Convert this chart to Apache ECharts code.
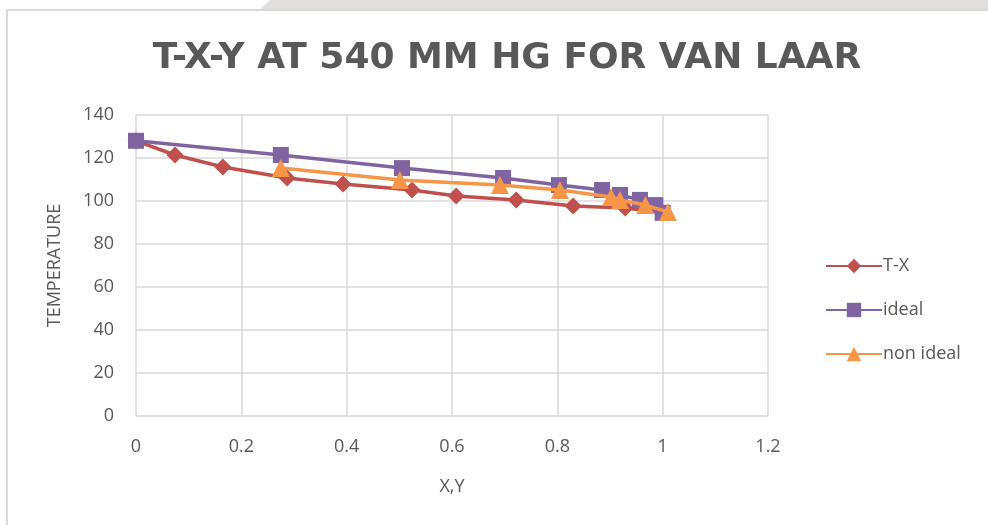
<!DOCTYPE html>
<html><head><meta charset="utf-8">
<script src="https://cdn.jsdelivr.net/npm/echarts@6/dist/echarts.min.js"></script>
<style>html,body{margin:0;padding:0;background:#fff}#c{width:988px;height:525px}</style>
</head><body><div id="c"></div>
<script>
const titleText = 'T-X-Y AT 540 MM HG FOR VAN LAAR';
const xTicks = [0, 0.2, 0.4, 0.6, 0.8, 1, 1.2];
const yTicks = [0, 20, 40, 60, 80, 100, 120, 140];
const seriesNames = ['T-X', 'ideal', 'non ideal'];
const txX = [0, 0.074, 0.165, 0.287, 0.393, 0.524, 0.608, 0.722, 0.830, 0.929, 1.0];
const txT = [128, 121.4, 115.8, 110.7, 107.9, 105.1, 102.3, 100.5, 97.7, 96.7, 94.7];
const idealX = [0, 0.275, 0.505, 0.697, 0.803, 0.885, 0.919, 0.957, 0.986, 1.0];
const idealT = [128, 121.4, 115.3, 110.7, 107.4, 105.1, 102.8, 100.5, 98.1, 94.5];
const nonX = [0.275, 0.501, 0.691, 0.805, 0.902, 0.919, 0.967, 1.01];
const nonT = [115.3, 109.8, 107.4, 105.1, 101.9, 100.5, 98.1, 94.9];

const pair = (xs, ys) => xs.map((x, i) => [x, ys[i]]);
const colors = ['#C0504D', '#8064A2', '#F79646'];
const symbols = ['diamond', 'rect', 'triangle'];
const sizes = [17, 16, 18];
const data = [pair(txX, txT), pair(idealX, idealT), pair(nonX, nonT)];

const chart = echarts.init(document.getElementById('c'), null, {renderer: 'canvas'});
chart.setOption({
  animation: false,
  backgroundColor: '#fff',
  graphic: [
    {type: 'polygon', shape: {points: [[270,0],[988,0],[988,9],[260,9]]}, style: {fill: '#e2dfdf'}, silent: true, z: -1},
    {type: 'rect', shape: {x: 7, y: 10, width: 990, height: 530}, style: {fill: 'none', stroke: '#d9d9d9', lineWidth: 2}, silent: true, z: -1}
  ],
  title: {
    text: titleText, left: 502, textAlign: 'center', top: 36,
    textStyle: {fontFamily: 'DejaVu Sans', fontWeight: 'bold', fontSize: 36, color: '#595959'}
  },
  grid: {left: 136, right: 220, top: 115, bottom: 109, containLabel: false},
  xAxis: {
    type: 'value', min: xTicks[0], max: xTicks[xTicks.length - 1], interval: 0.2,
    name: 'X,Y', nameLocation: 'middle', nameGap: 62,
    nameTextStyle: {fontFamily: 'Open Sans', fontSize: 18, color: '#595959'},
    axisLine: {show: false}, axisTick: {show: false},
    axisLabel: {fontFamily: 'Open Sans', fontSize: 18, color: '#595959', margin: 22,
      formatter: v => String(+v.toFixed(1))},
    splitLine: {show: true, lineStyle: {color: '#d9d9d9', width: 1.5}}
  },
  yAxis: {
    type: 'value', min: yTicks[0], max: yTicks[yTicks.length - 1], interval: 20,
    name: 'TEMPERATURE', nameLocation: 'middle', nameGap: 72, nameRotate: 90,
    nameTextStyle: {fontFamily: 'Open Sans', fontSize: 18, color: '#595959'},
    axisLine: {show: false}, axisTick: {show: false},
    axisLabel: {fontFamily: 'Open Sans', fontSize: 18, color: '#595959', margin: 22},
    splitLine: {show: true, lineStyle: {color: '#d9d9d9', width: 1.5}}
  },
  legend: {
    orient: 'vertical', left: 820, top: 252, itemGap: 26, itemWidth: 56, itemHeight: 18,
    data: seriesNames,
    textStyle: {fontFamily: 'Open Sans', fontSize: 18, color: '#595959', padding: [0,0,0,-4]}
  },
  series: seriesNames.map((n, i) => ({
    name: n, type: 'line', data: data[i],
    symbol: symbols[i], symbolSize: sizes[i], showSymbol: true,
    lineStyle: {color: colors[i], width: 3.5},
    itemStyle: {color: colors[i]},
    z: 2 + i
  }))
});
</script></body></html>
